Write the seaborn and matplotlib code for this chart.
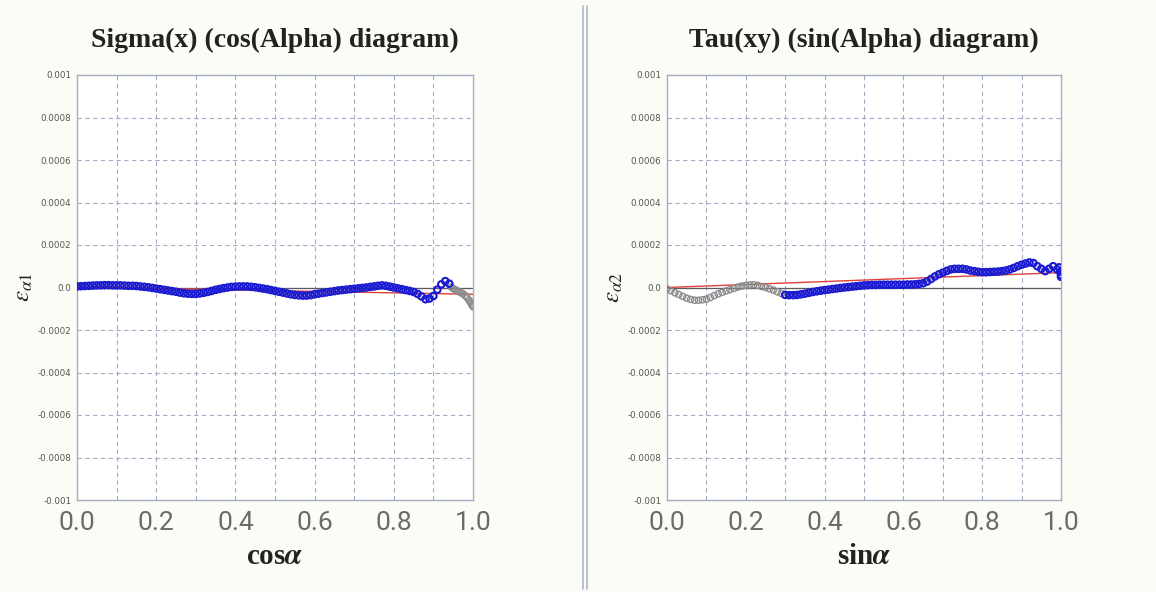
import numpy as np
import pandas as pd
import matplotlib
matplotlib.use("Agg")
import matplotlib.pyplot as plt
from matplotlib.lines import Line2D
import seaborn as sns

# ---- measured strain data (values in units of 1e-4) ----
cos_x_fit = [0.00, 0.01, 0.02, 0.03, 0.04, 0.05, 0.06, 0.07, 0.08, 0.09,
             0.10, 0.11, 0.12, 0.13, 0.14, 0.15, 0.16, 0.17, 0.18, 0.19,
             0.20, 0.21, 0.22, 0.23, 0.24, 0.25, 0.26, 0.27, 0.28, 0.29,
             0.30, 0.31, 0.32, 0.33, 0.34, 0.35, 0.36, 0.37, 0.38, 0.39,
             0.40, 0.41, 0.42, 0.43, 0.44, 0.45, 0.46, 0.47, 0.48, 0.49,
             0.50, 0.51, 0.52, 0.53, 0.54, 0.55, 0.56, 0.57, 0.58, 0.59,
             0.60, 0.61, 0.62, 0.63, 0.64, 0.65, 0.66, 0.67, 0.68, 0.69,
             0.70, 0.71, 0.72, 0.73, 0.74, 0.75, 0.76, 0.77, 0.78, 0.79,
             0.80, 0.81, 0.82, 0.83, 0.84, 0.85, 0.86, 0.87, 0.88, 0.89,
             0.90, 0.91, 0.92, 0.93, 0.94]
cos_eps_fit = [0.05, 0.06, 0.07, 0.08, 0.09, 0.10, 0.10, 0.11, 0.11, 0.10,
               0.10, 0.10, 0.09, 0.08, 0.08, 0.07, 0.05, 0.03, 0.01, -0.02,
               -0.05, -0.08, -0.11, -0.14, -0.17, -0.20, -0.24, -0.27, -0.29, -0.30,
               -0.30, -0.28, -0.25, -0.21, -0.16, -0.11, -0.07, -0.03, 0.00, 0.03,
               0.04, 0.05, 0.05, 0.05, 0.03, 0.01, -0.02, -0.05, -0.08, -0.12,
               -0.16, -0.20, -0.24, -0.28, -0.32, -0.35, -0.37, -0.38, -0.38, -0.36,
               -0.32, -0.29, -0.26, -0.23, -0.20, -0.17, -0.14, -0.12, -0.10, -0.08,
               -0.06, -0.04, -0.02, 0.00, 0.03, 0.05, 0.08, 0.10, 0.08, 0.04,
               0.00, -0.04, -0.08, -0.12, -0.16, -0.21, -0.30, -0.42, -0.55, -0.52,
               -0.40, -0.10, 0.15, 0.30, 0.18]
cos_x_out = [0.945, 0.95, 0.955, 0.96, 0.965, 0.97, 0.975, 0.98, 0.985, 0.99,
             0.993, 0.996, 0.998, 1.0]
cos_eps_out = [0.02, -0.05, -0.10, -0.15, -0.20, -0.25, -0.30, -0.38, -0.48, -0.60,
               -0.68, -0.76, -0.84, -0.90]
cos_line_x = [0.0, 1.0]
cos_line_eps = [0.02, -0.32]

sin_x_out = [0.00, 0.01, 0.02, 0.03, 0.04, 0.05, 0.06, 0.07, 0.08, 0.09,
             0.10, 0.11, 0.12, 0.13, 0.14, 0.15, 0.16, 0.17, 0.18, 0.19,
             0.20, 0.21, 0.22, 0.23, 0.24, 0.25, 0.26, 0.27, 0.28, 0.29, 0.30]
sin_eps_out = [-0.07, -0.15, -0.25, -0.33, -0.42, -0.50, -0.56, -0.60, -0.60, -0.58,
               -0.55, -0.47, -0.38, -0.30, -0.23, -0.16, -0.10, -0.04, 0.02, 0.07,
               0.10, 0.12, 0.13, 0.10, 0.05, 0.00, -0.06, -0.12, -0.20, -0.28, -0.34]
sin_x_fit = [0.30, 0.31, 0.32, 0.33, 0.34, 0.35, 0.36, 0.37, 0.38, 0.39,
             0.40, 0.41, 0.42, 0.43, 0.44, 0.45, 0.46, 0.47, 0.48, 0.49,
             0.50, 0.51, 0.52, 0.53, 0.54, 0.55, 0.56, 0.57, 0.58, 0.59,
             0.60, 0.61, 0.62, 0.63, 0.64, 0.65, 0.66, 0.67, 0.68, 0.69,
             0.70, 0.71, 0.72, 0.73, 0.74, 0.75, 0.76, 0.77, 0.78, 0.79,
             0.80, 0.81, 0.82, 0.83, 0.84, 0.85, 0.86, 0.87, 0.88, 0.89,
             0.90, 0.91, 0.92, 0.93, 0.94, 0.95, 0.96, 0.97, 0.98, 0.99,
             0.995, 0.998, 1.0, 1.0]
sin_eps_fit = [-0.35, -0.36, -0.36, -0.35, -0.32, -0.29, -0.25, -0.21, -0.18, -0.15,
               -0.12, -0.10, -0.07, -0.05, -0.02, 0.00, 0.02, 0.04, 0.06, 0.08,
               0.10, 0.11, 0.12, 0.12, 0.13, 0.13, 0.13, 0.13, 0.13, 0.13,
               0.13, 0.14, 0.14, 0.15, 0.17, 0.20, 0.28, 0.40, 0.52, 0.62,
               0.70, 0.78, 0.85, 0.88, 0.88, 0.88, 0.85, 0.80, 0.77, 0.74,
               0.72, 0.72, 0.73, 0.74, 0.75, 0.77, 0.80, 0.85, 0.92, 1.00,
               1.07, 1.13, 1.18, 1.15, 1.00, 0.88, 0.77, 0.88, 1.00, 0.85,
               0.95, 0.75, 0.60, 0.50]
sin_line_x = [0.0, 1.0]
sin_line_eps = [0.0, 0.70]

y_ticks = [0.001, 0.0008, 0.0006, 0.0004, 0.0002, 0.0,
           -0.0002, -0.0004, -0.0006, -0.0008, -0.001]
y_tick_labels = ["0.001", "0.0008", "0.0006", "0.0004", "0.0002", "0.0",
                 "-0.0002", "-0.0004", "-0.0006", "-0.0008", "-0.001"]
x_ticks = [0.0, 0.2, 0.4, 0.6, 0.8, 1.0]
x_tick_labels = ["0.0", "0.2", "0.4", "0.6", "0.8", "1.0"]
x_grid = [0.1, 0.2, 0.3, 0.4, 0.5, 0.6, 0.7, 0.8, 0.9]

titles = ["Sigma(x) (cos(Alpha) diagram)", "Tau(xy) (sin(Alpha) diagram)"]
xlabels = [r"cos$\boldsymbol{\alpha}$", r"sin$\boldsymbol{\alpha}$"]
ylabels = [r"$\boldsymbol{\varepsilon_{\alpha 1}}$", r"$\boldsymbol{\varepsilon_{\alpha 2}}$"]

SCALE = 1e-4

sns.set_theme(style="white")
plt.rcParams["mathtext.fontset"] = "stix"

BG = "#fcfcf6"
GRID = "#a3acc2"
SPINE = "#a4aec0"
BLUE = "#1a1ad0"
GREY = "#8a8a8a"
RED = "#e0403a"

fig = plt.figure(figsize=(11.56, 5.92), dpi=100, facecolor=BG)
ax_l = fig.add_axes([77 / 1156, 92 / 592, 396 / 1156, 425 / 592])
ax_r = fig.add_axes([667 / 1156, 92 / 592, 394 / 1156, 425 / 592])

panels = [
    (ax_l, cos_x_fit, cos_eps_fit, cos_x_out, cos_eps_out, cos_line_x, cos_line_eps),
    (ax_r, sin_x_fit, sin_eps_fit, sin_x_out, sin_eps_out, sin_line_x, sin_line_eps),
]

for i, (ax, xf, ef, xo, eo, xl, el) in enumerate(panels):
    ax.set_facecolor("white")
    fit = pd.DataFrame({"x": xf, "eps": np.array(ef) * SCALE})
    out = pd.DataFrame({"x": xo, "eps": np.array(eo) * SCALE})
    line = pd.DataFrame({"x": xl, "eps": np.array(el) * SCALE})

    # dashed grid: vertical every 0.1, horizontal at each y tick
    for gx in x_grid:
        ax.axvline(gx, color=GRID, ls=(0, (4, 3)), lw=0.8, zorder=0)
    for gy in y_ticks[1:-1]:
        ax.axhline(gy, color=GRID, ls=(0, (4, 3)), lw=0.8, zorder=0)

    ax.axhline(0.0, color="#5a5a66", lw=0.9, zorder=2)
    sns.lineplot(data=line, x="x", y="eps", ax=ax, color=RED, lw=1.0, zorder=3)
    sns.scatterplot(data=out, x="x", y="eps", ax=ax, marker="o", s=20,
                    facecolor="none", edgecolor=GREY, linewidth=1.0, zorder=4)
    sns.scatterplot(data=fit, x="x", y="eps", ax=ax, marker="o", s=22,
                    facecolor="none", edgecolor=BLUE, linewidth=1.5, zorder=5)

    ax.set_xlim(0, 1.0)
    ax.set_ylim(-0.001, 0.001)

    ax.set_xticks(x_grid, minor=True)
    ax.set_xticks(x_ticks)
    ax.set_xticklabels(x_tick_labels)
    ax.set_yticks(y_ticks)
    ax.set_yticklabels(y_tick_labels)
    ax.grid(False)

    ax.tick_params(axis="x", which="major", length=0, labelsize=19,
                   labelcolor="#6a6a6a", pad=8)
    ax.tick_params(axis="x", which="minor", direction="out", length=4,
                   width=0.8, color=GRID)
    ax.tick_params(axis="y", which="major", direction="out", length=3,
                   width=0.8, color=SPINE, labelsize=6.3, labelcolor="#555555", pad=1)
    for lab in ax.get_xticklabels():
        lab.set_fontfamily("Roboto")

    for sp in ax.spines.values():
        sp.set_color(SPINE)
        sp.set_linewidth(1.0)

    ax.set_title(titles[i], fontfamily="Liberation Serif", fontweight="bold",
                 fontsize=20, color="#222222", pad=20)
    ax.set_xlabel(xlabels[i], fontfamily="Liberation Serif", fontweight="bold",
                  fontsize=21, color="#222222", labelpad=6)
    ax.set_ylabel(ylabels[i], fontsize=18, color="#222222", labelpad=2)

# double separator between the two panels
for xpos in (583 / 1156, 587 / 1156):
    fig.add_artist(Line2D([xpos, xpos], [0.005, 0.99], transform=fig.transFigure,
                          color="#b3bccb", lw=1.3))

fig.savefig("out.png", dpi=100, facecolor=BG)
